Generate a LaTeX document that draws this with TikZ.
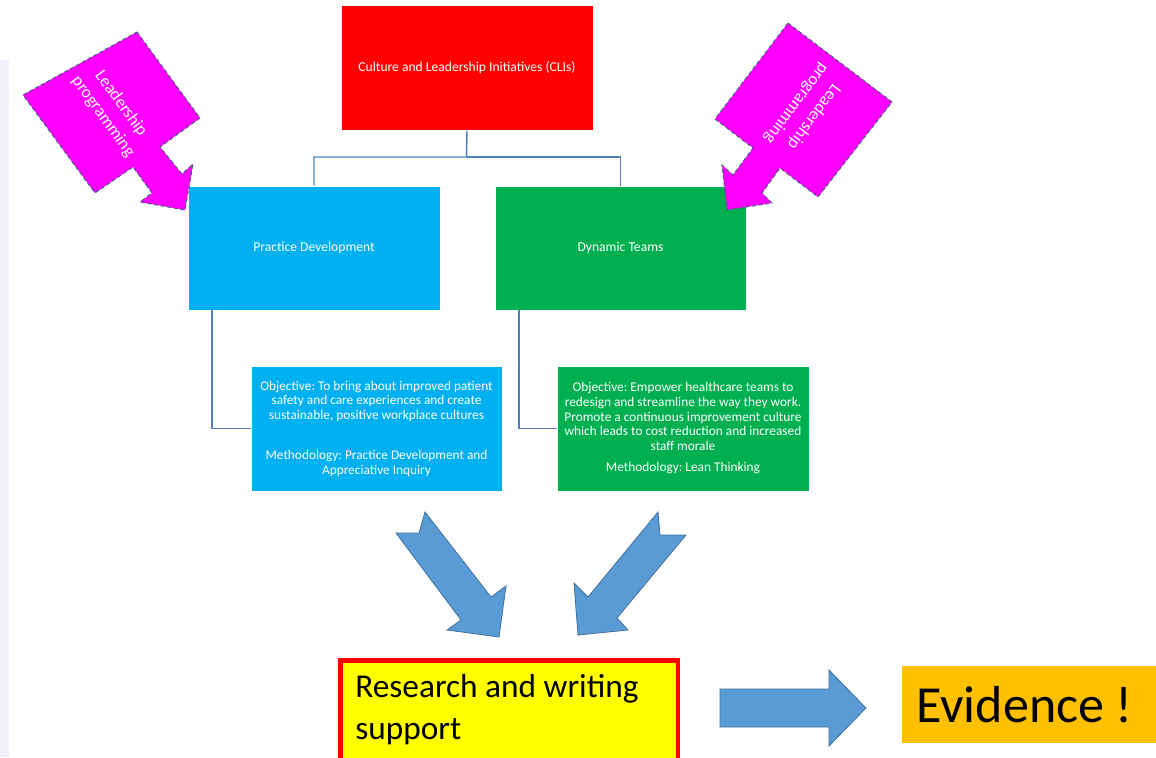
\documentclass[tikz,border=0pt]{standalone}
\usepackage{fontspec}
\setmainfont{Carlito}
\definecolor{cred}{HTML}{FF0000}
\definecolor{cblue}{HTML}{00B0F0}
\definecolor{cgreen}{HTML}{00B050}
\definecolor{cmag}{HTML}{FF00FF}
\definecolor{cmagline}{HTML}{3F6078}
\definecolor{carrow}{HTML}{5B9BD5}
\definecolor{carrowline}{HTML}{41719C}
\definecolor{cline}{HTML}{4F81BD}
\definecolor{cyel}{HTML}{FFFF00}
\definecolor{corange}{HTML}{FFC000}
\definecolor{cstrip}{HTML}{F1F0F8}
\frenchspacing
\tikzset{
  box/.style={draw=white, line width=0.6pt, inner sep=0pt, text=white, font=\fontsize{10.2}{12}\selectfont, align=center},
  objbox/.style={box, font=\fontsize{10}{11}\selectfont},
  conn/.style={draw=cline, line width=1.1pt},
  magarrow/.style={fill=cmag, draw=cmagline, densely dashed, line width=0.7pt},
  bluearrow/.style={fill=carrow, draw=carrowline, line width=0.6pt},
  magtext/.style={text=white, font=\fontsize{13}{16.5}\selectfont, align=center}
}
\begin{document}
\begin{tikzpicture}[x=0.75pt,y=-0.75pt]
\useasboundingbox (0,0) rectangle (1156,757);
\fill[cstrip] (0,60) rectangle (9,757);

% top boxes
\node[box, fill=cred, minimum width=252*0.75pt, minimum height=125*0.75pt] (cli) at (467,68) {Culture and Leadership Initiatives (CLIs)};
\node[box, fill=cblue, minimum width=252*0.75pt, minimum height=124*0.75pt] (pd) at (314,248) {Practice Development};
\node[box, fill=cgreen, minimum width=251*0.75pt, minimum height=124*0.75pt] (dt) at (620.5,248) {Dynamic Teams};

% objective boxes
\node[objbox, fill=cblue, minimum width=251*0.75pt, minimum height=125*0.75pt] (pdo) at (376.5,428.5)
 {Objective: To bring about improved patient\\safety and care experiences and create\\sustainable, positive workplace cultures\\[19pt]
  Methodology: Practice Development and\\Appreciative Inquiry};
\node[objbox, fill=cgreen, minimum width=252*0.75pt, minimum height=125*0.75pt] (dto) at (683,428.5)
 {Objective: Empower healthcare teams to\\redesign and streamline the way they work.\\Promote a continuous improvement culture\\which leads to cost reduction and increased\\staff morale\\[5pt]
  Methodology: Lean Thinking};

% connectors
\coordinate (jl) at (314,157);
\coordinate (jr) at (620.5,157);
\draw[conn] (cli.south) -- (466.5,157) -- (jl) -- (pd.north);
\draw[conn] (466.5,157) -- (jr) -- (dt.north);
\draw[conn] (212,310) |- (pdo.west);
\draw[conn] (519,310) |- (dto.west);

% magenta arrows
\draw[magarrow] (137,32) -- (200,118) -- (160,147) -- (182,174) -- (193,164) -- (185,210) -- (140,202) -- (152,193) -- (133,167) -- (95,193) -- (23,95) -- cycle;
\node[magtext, rotate=-54] (lpl) at (112,110) {Leadership\\programming};
\draw[magarrow] (788,23) -- (892,102) -- (818,197) -- (780,168) -- (762,193) -- (772,203) -- (727,210) -- (722,165) -- (733,175) -- (753,148) -- (715,119) -- cycle;
\node[magtext, rotate=-127] (lpr) at (805,110) {Leadership\\programming};

% blue arrows
\draw[bluearrow] (425,512) -- (491,597) -- (506,586) -- (499,637) -- (447,630) -- (461,620) -- (396,533) -- (419,533) -- cycle;
\draw[bluearrow] (658,512) -- (588,597) -- (574,583) -- (578,635) -- (628,630) -- (617,618) -- (686,535) -- (660,535) -- cycle;
\draw[bluearrow] (720,689) -- (829,689) -- (829,670) -- (866,708) -- (829,746) -- (829,727) -- (720,727) -- cycle;

% bottom boxes
\fill[cred] (338,658) rectangle (680,760);
\fill[cyel] (342.5,662.5) rectangle (675.5,760);
\node[anchor=north west, inner sep=0pt, font=\fontsize{25}{31.5}\selectfont, align=left] (rws) at (355,674) {Research and writing\\support};
\node[fill=corange, minimum width=254*0.75pt, minimum height=77*0.75pt, inner sep=0pt, anchor=north west, font=\fontsize{39}{47}\selectfont] (ev) at (902,666) {\hspace*{-7pt}Evidence !};
\end{tikzpicture}
\end{document}
